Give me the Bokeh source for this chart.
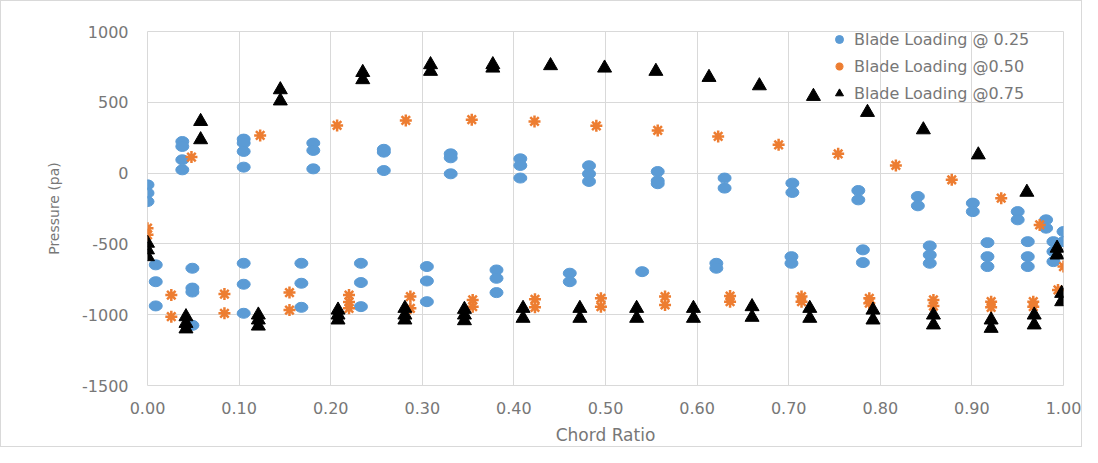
from bokeh.plotting import figure
from bokeh.models import FixedTicker, Range1d, Legend, LegendItem, ColumnDataSource
from bokeh.embed import file_html
from bokeh.resources import INLINE

# ---------------- data ----------------
blue_x = [0.0, 0.0, 0.0, 0.009, 0.009, 0.009,
          0.038, 0.038, 0.038, 0.038, 0.049, 0.049, 0.049, 0.049,
          0.105, 0.105, 0.105, 0.105, 0.105, 0.105, 0.105,
          0.181, 0.181, 0.181, 0.168, 0.168, 0.168,
          0.258, 0.258, 0.258, 0.233, 0.233, 0.233,
          0.331, 0.331, 0.331, 0.305, 0.305, 0.305,
          0.407, 0.407, 0.407, 0.381, 0.381, 0.381,
          0.482, 0.482, 0.482, 0.461, 0.461,
          0.557, 0.557, 0.557, 0.540,
          0.630, 0.630, 0.621, 0.621,
          0.704, 0.704, 0.703, 0.703,
          0.776, 0.776, 0.781, 0.781,
          0.841, 0.841, 0.854, 0.854, 0.854,
          0.901, 0.901, 0.917, 0.917, 0.917,
          0.950, 0.950, 0.961, 0.961, 0.961,
          0.981, 0.981, 0.989, 0.989, 0.989, 1.0, 1.0]
blue_y = [-83, -141, -201, -648, -767, -938,
          223, 188, 94, 23, -672, -812, -840, -1075,
          240, 212, 153, 42, -637, -785, -990,
          212, 160, 30, -637, -778, -948,
          168, 148, 18, -637, -773, -943,
          136, 108, -5, -660, -762, -908,
          101, 54, -35, -684, -743, -844,
          52, -5, -59, -707, -767,
          11, -55, -75, -696,
          -35, -106, -637, -672,
          -71, -137, -590, -637,
          -123, -189, -542, -632,
          -165, -231, -514, -578, -637,
          -212, -272, -491, -590, -660,
          -272, -330, -484, -590, -660,
          -330, -389, -484, -554, -625, -413, -484]

orange_x = [0.048, 0.123, 0.207, 0.282, 0.354, 0.4225, 0.490, 0.557, 0.623,
            0.689, 0.754, 0.817, 0.878, 0.932, 0.974,
            0.0, 0.0, 0.026, 0.026, 0.084, 0.084, 0.155, 0.155,
            0.220, 0.220, 0.220, 0.287, 0.287, 0.355, 0.355, 0.423, 0.423,
            0.495, 0.495, 0.565, 0.565, 0.636, 0.636, 0.714, 0.714,
            0.788, 0.788, 0.858, 0.858, 0.921, 0.921, 0.967, 0.967,
            0.994, 1.0]
orange_y = [113, 266, 337, 372, 377, 365, 334, 301, 259,
            200, 136, 54, -47, -177, -366,
            -389, -436, -861, -1014, -854, -990, -844, -967,
            -861, -910, -955, -872, -955, -896, -943, -891, -948,
            -884, -943, -872, -931, -868, -908, -872, -908,
            -884, -919, -896, -939, -908, -948, -908, -943,
            -825, -660]

black_x = [0.058, 0.058, 0.145, 0.145, 0.235, 0.235, 0.309, 0.309, 0.377, 0.377,
           0.440, 0.499, 0.555, 0.613, 0.668, 0.727, 0.786, 0.847, 0.907,
           0.960, 0.993, 0.993,
           0.0, 0.0, 0.0, 0.042, 0.042, 0.042, 0.121, 0.121, 0.121,
           0.208, 0.208, 0.208, 0.281, 0.281, 0.281, 0.346, 0.346, 0.346,
           0.410, 0.410, 0.472, 0.472, 0.534, 0.534, 0.596, 0.596,
           0.660, 0.660, 0.723, 0.723, 0.792, 0.792, 0.858, 0.858,
           0.921, 0.921, 0.968, 0.968, 0.998, 0.998]
black_y = [365, 236, 589, 510, 711, 660, 766, 719, 766, 742,
           759, 742, 719, 676, 617, 542, 429, 306, 129,
           -135, -530, -578,
           -495, -542, -590, -1014, -1061, -1100, -1002, -1037, -1080,
           -967, -1002, -1037, -955, -1002, -1037, -962, -1002, -1042,
           -955, -1025, -955, -1025, -955, -1025, -955, -1025,
           -943, -1018, -955, -1025, -967, -1037, -1002, -1072,
           -1037, -1096, -1002, -1072, -849, -908]

series_names = ["Blade Loading @ 0.25", "Blade Loading @0.50", "Blade Loading @0.75"]
x_ticks = [0.0, 0.1, 0.2, 0.3, 0.4, 0.5, 0.6, 0.7, 0.8, 0.9, 1.0]
x_tick_labels = ["0.00", "0.10", "0.20", "0.30", "0.40", "0.50", "0.60", "0.70", "0.80", "0.90", "1.00"]
y_ticks = [-1500, -1000, -500, 0, 500, 1000]
y_tick_labels = ["-1500", "-1000", "-500", "0", "500", "1000"]

# ---------------- figure ----------------
FONT = "DejaVu Sans"
TXT = "#777777"
GRID = "#d9d9d9"
BLUE = "#5b9bd5"

p = figure(width=1082, height=447, output_backend="svg", toolbar_location=None,
           x_range=Range1d(0, 1), y_range=Range1d(-1500, 1000),
           min_border_left=146, min_border_right=20, min_border_top=30, min_border_bottom=63)
p.styles = {"border": "1px solid #d9d9d9"}
p.outline_line_color = GRID
p.background_fill_color = "white"
p.border_fill_color = "white"

p.xaxis.ticker = FixedTicker(ticks=x_ticks)
p.yaxis.ticker = FixedTicker(ticks=y_ticks)
p.xaxis.major_label_overrides = {t: l for t, l in zip(x_ticks, x_tick_labels)}
p.yaxis.major_label_overrides = {t: l for t, l in zip(y_ticks, y_tick_labels)}

for ax in (p.xaxis, p.yaxis):
    ax.axis_line_color = None
    ax.major_tick_line_color = None
    ax.minor_tick_line_color = None
    ax.major_tick_out = 0
    ax.major_tick_in = 0
    ax.major_label_text_font = FONT
    ax.major_label_text_color = TXT
    ax.major_label_text_font_size = "16px"
    ax.axis_label_text_font = FONT
    ax.axis_label_text_color = TXT
    ax.axis_label_text_font_style = "normal"

p.xaxis.axis_label = "Chord Ratio"
p.yaxis.axis_label = "Pressure (pa)"
p.xaxis.axis_label_text_font_size = "17px"
p.yaxis.axis_label_text_font_size = "14px"
p.xaxis.major_label_standoff = 16
p.xaxis.axis_label_standoff = 8
p.yaxis.major_label_standoff = 19
p.yaxis.axis_label_standoff = 17

p.xgrid.grid_line_color = GRID
p.ygrid.grid_line_color = GRID

src_b = ColumnDataSource(dict(x=blue_x, y=blue_y))
src_b_key = ColumnDataSource(dict(x=blue_x[:1], y=blue_y[:1]))
src_o = ColumnDataSource(dict(x=orange_x, y=orange_y))
src_k = ColumnDataSource(dict(x=black_x, y=black_y))

# small dot used as the legend key of the blue series (hidden under its ellipse)
rb_key = p.scatter(x="x", y="y", source=src_b_key, marker="circle", size=9,
                   fill_color=BLUE, line_color=BLUE)
rb = p.ellipse(x="x", y="y", width=13, height=10, width_units="screen", height_units="screen",
               source=src_b, fill_color=BLUE, line_color=BLUE)
ro = p.scatter(x="x", y="y", source=src_o, marker="asterisk", size=12,
               line_color="#ed7d31", line_width=2.5)
rk = p.scatter(x="x", y="y", source=src_k, marker="triangle", size=14,
               fill_color="black", line_color="black")

legend = Legend(items=[LegendItem(label=series_names[0], renderers=[rb_key]),
                       LegendItem(label=series_names[1], renderers=[ro]),
                       LegendItem(label=series_names[2], renderers=[rk])],
                location=(682, 282), padding=0, margin=0, spacing=7,
                glyph_height=20, glyph_width=20, label_height=20, label_standoff=5,
                label_text_font=FONT, label_text_color=TXT, label_text_font_size="16px",
                border_line_alpha=0, background_fill_alpha=0)
p.add_layout(legend, "center")

open("out.html", "w").write(file_html(p, INLINE))
